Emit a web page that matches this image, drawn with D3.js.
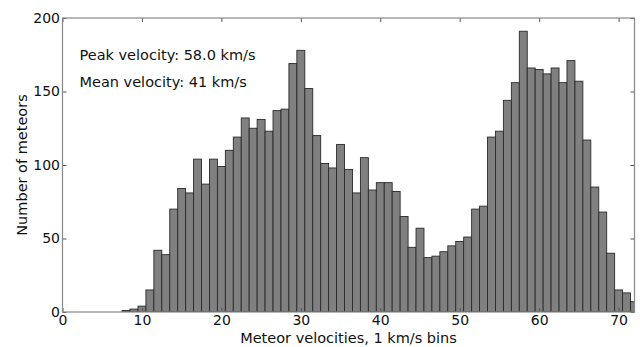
<!DOCTYPE html>
<html>
<head>
<meta charset="utf-8">
<script src="https://cdn.jsdelivr.net/npm/d3@7"></script>
<style>
  html, body { margin: 0; padding: 0; background: #fff; }
  svg { display: block; font-family: "DejaVu Sans", sans-serif; }
</style>
</head>
<body>
<svg id="chart" width="640" height="347"></svg>
<script>
// Bin centres (km/s) and counts
const velocities = [8, 9, 10, 11, 12, 13, 14, 15, 16, 17, 18, 19, 20, 21, 22, 23, 24, 25, 26, 27, 28, 29, 30,
  31, 32, 33, 34, 35, 36, 37, 38, 39, 40, 41, 42, 43, 44, 45, 46, 47, 48, 49, 50,
  51, 52, 53, 54, 55, 56, 57, 58, 59, 60, 61, 62, 63, 64, 65, 66, 67, 68, 69, 70, 71, 72];
const counts = [1, 2, 4, 15, 42, 39, 70, 84, 81, 104, 87, 104, 99, 110, 119, 132, 125, 131, 123, 137, 138, 169, 178,
  152, 120, 101, 98, 114, 97, 81, 105, 83, 88, 88, 82, 65, 44, 57, 37, 38, 41, 45, 48,
  51, 70, 72, 119, 123, 144, 156, 191, 166, 165, 162, 166, 156, 171, 157, 117, 85, 68, 40, 15, 13, 7];
const xTicks = [0, 10, 20, 30, 40, 50, 60, 70];
const yTicks = [0, 50, 100, 150, 200];
const annotations = ["Peak velocity: 58.0 km/s", "Mean velocity: 41 km/s"];
const xLabel = "Meteor velocities, 1 km/s bins";
const yLabel = "Number of meteors";
const binWidth = 1;

const m = { left: 62.5, right: 634.5, top: 18, bottom: 312 };
const svg = d3.select("#chart");
const x = d3.scaleLinear().domain([0, 72]).range([m.left, m.right]);
const y = d3.scaleLinear().domain([0, 200]).range([m.bottom, m.top]);

svg.append("defs").append("clipPath").attr("id", "clip")
  .append("rect").attr("x", m.left).attr("y", m.top)
  .attr("width", m.right - m.left).attr("height", m.bottom - m.top);

const data = velocities.map((v, i) => ({ v, c: counts[i] }));

svg.append("g").attr("clip-path", "url(#clip)")
  .selectAll("rect").data(data).enter().append("rect")
  .attr("x", d => x(d.v - binWidth / 2))
  .attr("width", d => x(d.v + binWidth / 2) - x(d.v - binWidth / 2))
  .attr("y", d => y(d.c))
  .attr("height", d => y(0) - y(d.c))
  .attr("fill", "#808080")
  .attr("stroke", "#2a2a2a")
  .attr("stroke-width", 0.9);

// axes with inward ticks
const fs = 14;
const xAxisB = d3.axisBottom(x).tickValues(xTicks).tickSize(-4).tickPadding(3.5).tickFormat(d3.format("d"));
const xAxisT = d3.axisTop(x).tickValues(xTicks).tickSize(-4).tickFormat("");
const yAxisL = d3.axisLeft(y).tickValues(yTicks).tickSize(-4).tickPadding(2.5).tickFormat(d3.format("d"));
const yAxisR = d3.axisRight(y).tickValues(yTicks).tickSize(-4).tickFormat("");

function style(g) {
  g.selectAll(".domain").remove();
  g.selectAll(".tick line").attr("stroke", "#555");
  g.selectAll("text").attr("fill", "#111").style("font-size", fs + "px").style("font-family", "DejaVu Sans");
}
svg.append("g").attr("transform", `translate(0,${m.bottom})`).call(xAxisB).call(style);
svg.append("g").attr("transform", `translate(0,${m.top})`).call(xAxisT).call(style);
svg.append("g").attr("transform", `translate(${m.left},0)`).call(yAxisL).call(style);
svg.append("g").attr("transform", `translate(${m.right},0)`).call(yAxisR).call(style);

// frame
svg.append("rect").attr("x", m.left).attr("y", m.top)
  .attr("width", m.right - m.left).attr("height", m.bottom - m.top)
  .attr("fill", "none").attr("stroke", "#888").attr("stroke-width", 1.2);

// annotations
annotations.forEach((t, i) => {
  svg.append("text").attr("x", 79.5).attr("y", 59.5 + i * 27.5)
    .attr("fill", "#111").style("font-size", "14.5px").text(t);
});

svg.append("text").attr("x", (m.left + m.right) / 2).attr("y", 343)
  .attr("text-anchor", "middle").attr("fill", "#111").style("font-size", "14.5px").text(xLabel);
svg.append("text").attr("transform", `translate(27.3,${(m.top + m.bottom) / 2}) rotate(-90)`)
  .attr("text-anchor", "middle").attr("fill", "#111").style("font-size", "14.5px").text(yLabel);
</script>
</body>
</html>
